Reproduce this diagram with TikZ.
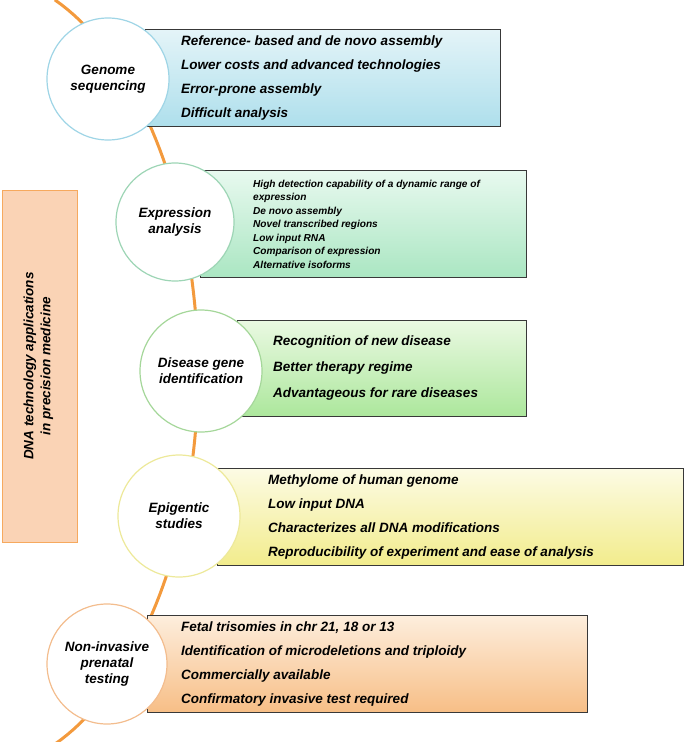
\documentclass[tikz,border=0pt]{standalone}
\usepackage{fontspec}
\setmainfont{Liberation Sans}
\usetikzlibrary{positioning,shadows}
\definecolor{arcorange}{HTML}{F39A3D}
\definecolor{ringblue}{HTML}{9FD5E6}
\definecolor{ringteal}{HTML}{9DD5B5}
\definecolor{ringgreen}{HTML}{A5D79A}
\definecolor{ringyellow}{HTML}{EDE99A}
\definecolor{ringpeach}{HTML}{F3BD8E}
\definecolor{titlefill}{HTML}{FAD3B5}
\definecolor{titleline}{HTML}{F6A95E}
\tikzset{
    topic/.style={draw, circle, fill=white, line width=1.2pt, minimum size=122pt, inner sep=0pt, align=center, font=\fontsize{13.5}{16}\selectfont\bfseries\itshape},
    facts/.style={draw=black!78, line width=1pt, rectangle, anchor=north west, inner sep=0pt,
        drop shadow={shadow xshift=0.6pt, shadow yshift=-0.6pt, opacity=0.3}},
    factlist/.style={align=left, inner sep=0pt, anchor=west, font=\fontsize{13.5}{24}\selectfont\bfseries\itshape},
    backbone/.style={line width=3pt, arcorange}
}

\begin{document}
\begin{tikzpicture}[x=1pt, y=-1pt]
    \useasboundingbox (0,0) rectangle (685,742);

    % orange backbone behind everything
    \draw[backbone, domain=-68.5:68.5, samples=80, variable=\t]
        plot ({-28+226*cos(\t)}, {372-400*sin(\t)});

    % title box
    \node[rectangle, draw=titleline, fill=titlefill, line width=1pt, anchor=north west,
          minimum width=75pt, minimum height=352pt, inner sep=0pt] (title) at (2,190) {};
    \node[rotate=90, align=center, font=\fontsize{13.5}{17}\selectfont\bfseries\itshape] (titletext) at (38.5,366)
        {DNA technology applications\\ in precision medicine};

    % fact boxes
    \node[facts, top color={rgb,255:red,228;green,244;blue,248}, bottom color={rgb,255:red,174;green,223;blue,236},
          minimum width=355pt, minimum height=97pt] (b1) at (145,29) {};
    \node[facts, top color={rgb,255:red,232;green,249;blue,239}, bottom color={rgb,255:red,170;green,230;blue,194},
          minimum width=326pt, minimum height=107pt] (b2) at (200,170) {};
    \node[facts, top color={rgb,255:red,234;green,249;blue,226}, bottom color={rgb,255:red,172;green,231;blue,156},
          minimum width=289pt, minimum height=96pt] (b3) at (237,320) {};
    \node[facts, top color={rgb,255:red,252;green,251;blue,228}, bottom color={rgb,255:red,242;green,236;blue,140},
          minimum width=466pt, minimum height=97pt] (b4) at (217,468) {};
    \node[facts, top color={rgb,255:red,253;green,238;blue,221}, bottom color={rgb,255:red,247;green,190;blue,134},
          minimum width=440pt, minimum height=97pt] (b5) at (147,615) {};

    \node[factlist, right=36pt of b1.west] (f1) {Reference- based and de novo assembly\\
        Lower costs and advanced technologies\\ Error-prone assembly\\ Difficult analysis};
    \node[factlist, right=53pt of b2.west, font=\fontsize{10.1}{13.5}\selectfont\bfseries\itshape] (f2)
        {High detection capability of a dynamic range of\\ expression\\ De novo assembly\\
        Novel transcribed regions\\ Low input RNA\\ Comparison of expression\\ Alternative isoforms};
    \node[factlist, right=36pt of b3.west, font=\fontsize{13.5}{26}\selectfont\bfseries\itshape] (f3)
        {Recognition of new disease\\ Better therapy regime\\ Advantageous for rare diseases};
    \node[factlist, right=51pt of b4.west] (f4) {Methylome of human genome\\ Low input DNA\\
        Characterizes all DNA modifications\\ Reproducibility of experiment and ease of analysis};
    \node[factlist, right=34pt of b5.west] (f5) {Fetal trisomies in chr 21, 18 or 13\\
        Identification of microdeletions and triploidy\\ Commercially available\\ Confirmatory invasive test required};

    % topic circles
    \node[topic, draw=ringblue] (genome) at (108,79) {Genome\\ sequencing};
    \node[topic, draw=ringteal, minimum size=118pt] (expr) at (175,222) {Expression\\ analysis};
    \node[topic, draw=ringgreen] (disease) at (201,371) {Disease gene\\ identification};
    \node[topic, draw=ringyellow] (epi) at (179,516) {Epigentic\\ studies};
    \node[topic, draw=ringpeach, minimum size=120pt] (nipt) at (107,664) {Non-invasive\\ prenatal\\ testing};
\end{tikzpicture}
\end{document}
